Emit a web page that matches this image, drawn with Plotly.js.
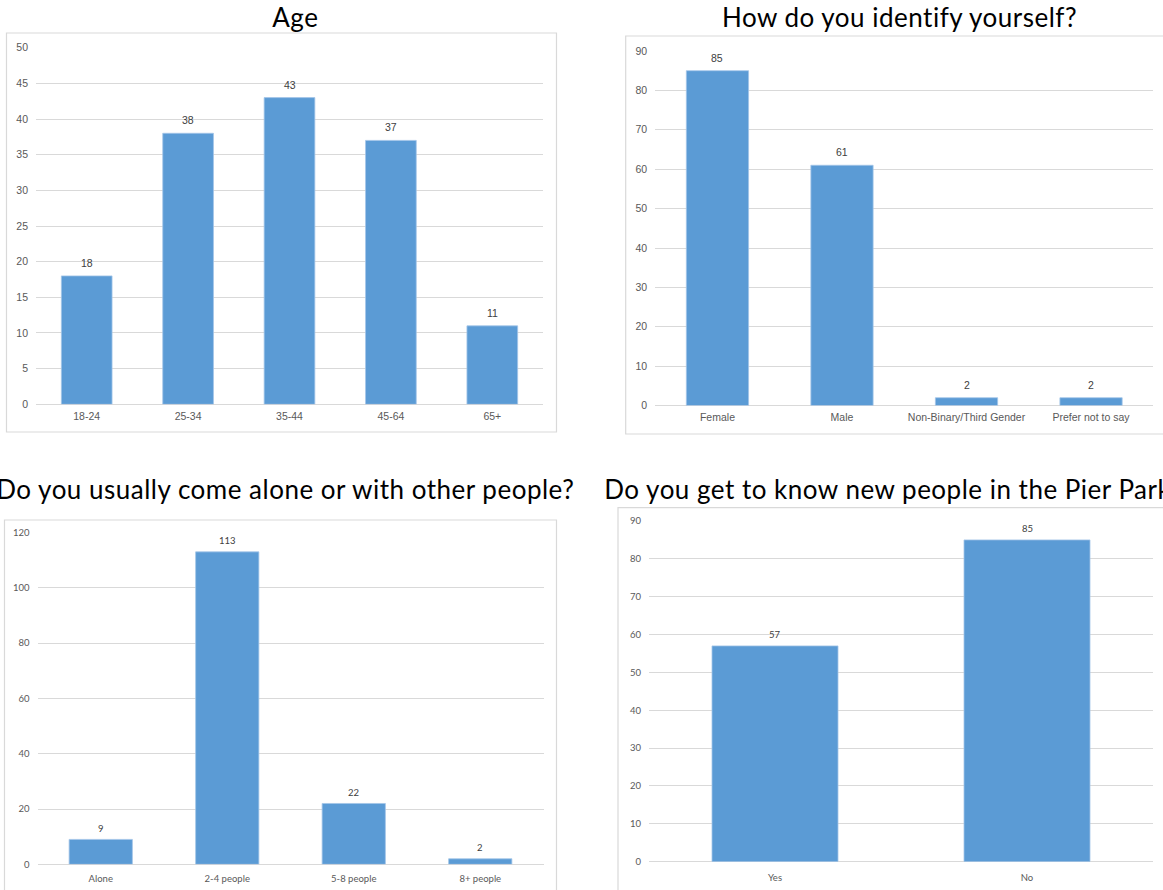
<!DOCTYPE html>
<html>
<head>
<meta charset="utf-8">
<script src="https://cdn.plot.ly/plotly-3.0.1.min.js"></script>
<style>
  html, body { margin: 0; padding: 0; background: #fff; }
  #chart { width: 1163px; height: 890px; }
  /* the four headings are the first four annotations */
  g.annotation[data-index="0"] text.annotation-text,
  g.annotation[data-index="1"] text.annotation-text,
  g.annotation[data-index="2"] text.annotation-text,
  g.annotation[data-index="3"] text.annotation-text { letter-spacing: 0.5px; }
</style>
</head>
<body>
<div id="chart"></div>
<script>
// Survey answers, one small set of arrays per question
const ageTitle = 'Age';
const ageGroups = ['18-24', '25-34', '35-44', '45-64', '65+'];
const ageCounts = [18, 38, 43, 37, 11];
const ageTicks = [0, 5, 10, 15, 20, 25, 30, 35, 40, 45, 50];

const genderTitle = 'How do you identify yourself?';
const genderGroups = ['Female', 'Male', 'Non-Binary/Third Gender', 'Prefer not to say'];
const genderCounts = [85, 61, 2, 2];
const genderTicks = [0, 10, 20, 30, 40, 50, 60, 70, 80, 90];

const companyTitle = 'Do you usually come alone or with other people?';
const companyGroups = ['Alone', '2-4 people', '5-8 people', '8+ people'];
const companyCounts = [9, 113, 22, 2];
const companyTicks = [0, 20, 40, 60, 80, 100, 120];

const meetTitle = 'Do you get to know new people in the Pier Park?';
const meetGroups = ['Yes', 'No'];
const meetCounts = [57, 85];
const meetTicks = [0, 10, 20, 30, 40, 50, 60, 70, 80, 90];

// Page geometry in pixels
const W = 1163, H = 890;
const px = v => v / W;
const py = v => 1 - v / H;

const BAR = '#5b9bd5';
const GRID = '#d9d9d9';
const FRAME = '#d9d9d9';
const TICK = '#595959';

const panels = [
  { title: ageTitle, cats: ageGroups, vals: ageCounts, ticks: ageTicks,
    x: [36, 543], y0: 404.3, y1: 47.7, font: 'Liberation Sans, Arial, sans-serif', fs: 10.5, lab: 13, xpad: 4,
    frame: [6.5, 33, 556.5, 432],
    head: { x: 295, y: 17 } },
  { title: genderTitle, cats: genderGroups, vals: genderCounts, ticks: genderTicks,
    x: [655.2, 1153.3], y0: 405.6, y1: 51, font: 'Liberation Sans, Arial, sans-serif', fs: 10.5, lab: 13, xpad: 4,
    frame: [625.7, 36, 1175, 434],
    head: { x: 899, y: 17 } },
  { title: companyTitle, cats: companyGroups, vals: companyCounts, ticks: companyTicks,
    x: [37.5, 543.5], y0: 864.3, y1: 532.5, font: 'Lato, sans-serif', fs: 9.5, lab: 11, xpad: 7,
    frame: [4.5, 520, 556.5, 900],
    head: { x: 285, y: 489 } },
  { title: meetTitle, cats: meetGroups, vals: meetCounts, ticks: meetTicks,
    x: [649, 1153], y0: 861.7, y1: 521, font: 'Lato, sans-serif', fs: 9.5, lab: 11, xpad: 9,
    frame: [618, 507.7, 1175, 900],
    head: { x: 894, y: 489 } }
];

const data = [];
const headings = [];
const valueLabels = [];
const shapes = [];
const layout = {
  width: W, height: H,
  margin: { l: 0, r: 0, t: 0, b: 0, pad: 0 },
  paper_bgcolor: '#ffffff', plot_bgcolor: '#ffffff',
  showlegend: false,
  bargap: 0.5
};

panels.forEach((p, i) => {
  const n = i === 0 ? '' : String(i + 1);
  const xa = 'x' + n, ya = 'y' + n;

  data.push({
    type: 'bar',
    x: p.cats, y: p.vals,
    xaxis: xa, yaxis: ya,
    width: 0.5,
    marker: { color: BAR, line: { color: '#a3c5e8', width: 0.8 } },
    hoverinfo: 'x+y'
  });

  layout['xaxis' + n] = {
    domain: [px(p.x[0]), px(p.x[1])],
    anchor: ya,
    type: 'category',
    range: [-0.5, p.cats.length - 0.5],
    showgrid: false, showline: false, zeroline: false,
    ticks: '', ticklabelstandoff: p.xpad,
    tickfont: { family: p.font, size: p.fs, color: TICK },
    fixedrange: true
  };
  layout['yaxis' + n] = {
    domain: [py(p.y0), py(p.y1)],
    anchor: xa,
    range: [0, p.ticks[p.ticks.length - 1]],
    tickvals: p.ticks,
    showgrid: true, gridcolor: GRID, gridwidth: 1,
    zeroline: true, zerolinecolor: GRID, zerolinewidth: 1,
    showline: false, ticks: '', ticklabelstandoff: 7,
    tickfont: { family: p.font, size: p.fs, color: TICK },
    fixedrange: true
  };

  // value labels above each bar
  p.cats.forEach((c, k) => {
    valueLabels.push({
      xref: xa, yref: ya, x: c, y: p.vals[k],
      text: String(p.vals[k]),
      showarrow: false, yanchor: 'middle', yshift: p.lab,
      font: { family: p.font, size: p.fs, color: '#404040' }
    });
  });

  // chart heading
  headings.push({
    xref: 'paper', yref: 'paper',
    x: px(p.head.x), y: py(p.head.y),
    xanchor: 'center', yanchor: 'middle',
    text: p.title, showarrow: false,
    font: { family: 'Lato, sans-serif', size: 26, color: '#000000' }
  });

  // light frame round each chart
  shapes.push({
    type: 'rect', xref: 'paper', yref: 'paper', layer: 'below',
    x0: px(p.frame[0]), x1: px(p.frame[2]),
    y0: py(p.frame[3]), y1: py(p.frame[1]),
    line: { color: FRAME, width: 1.2 }, fillcolor: 'rgba(0,0,0,0)'
  });
});

layout.annotations = headings.concat(valueLabels);
layout.shapes = shapes;

Plotly.newPlot('chart', data, layout, { displayModeBar: false, staticPlot: true });
</script>
</body>
</html>
